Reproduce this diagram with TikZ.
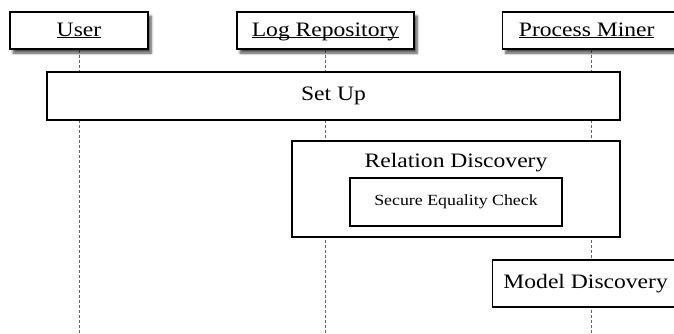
\documentclass[tikz,border=0pt]{standalone}
\usepackage{fontspec}
\setmainfont[FakeStretch=1.15]{Liberation Serif}
\usetikzlibrary{positioning,shadows.blur,backgrounds}

\newcommand{\bigfont}{\fontsize{20.5}{24}\selectfont}
\newcommand{\smallfont}{\fontsize{15.5}{18}\selectfont}
\newcommand{\actorname}[1]{$\underline{\smash{\hbox{#1}}}$}

\tikzset{
  actor/.style={draw,fill=white,line width=0.5mm,minimum height=37pt,
    font=\bigfont,text height=14pt,text depth=3pt,
    blur shadow={shadow xshift=3pt,shadow yshift=-4pt,shadow blur radius=2.5pt,
      shadow blur steps=6,shadow opacity=70}},
  phase/.style={draw,fill=white,line width=0.45mm,font=\bigfont},
  subphase/.style={draw,fill=white,line width=0.45mm,font=\smallfont},
  lifeline/.style={gray!80!black,line width=0.3mm,dash pattern=on 3pt off 2pt}
}

\begin{document}
\begin{tikzpicture} [x=1pt,y=-1pt]

  \useasboundingbox (0,0) rectangle (674,333);
  \clip (0,0) rectangle (674,333);

  % participants
  \node[actor] (user) at (79,30.5) [minimum width=138pt] {\actorname{User}};
  \node[actor] (repo) at (325.5,30.5) [minimum width=177pt] {\actorname{Log Repository}};
  \node[actor] (miner) at (502,30.5) [anchor=west,minimum width=178pt] {\hspace*{-10pt}\actorname{Process Miner}};

  \coordinate (userend) at (79,333);
  \coordinate (repoend) at (325.5,333);
  \coordinate (minerend) at (591,333);

  % phases
  \node[phase] (setup) at (333.5,96) [minimum width=573pt,minimum height=48pt] {Set Up};
  \node[phase] (relation) at (456,189) [minimum width=328pt,minimum height=96pt,
    label={[anchor=base,yshift=-27pt,font=\bigfont]north:Relation Discovery}] {};
  \node[subphase] (equality) at (456,202) [minimum width=212pt,minimum height=48pt] {Secure Equality\ Check};
  \node[phase] (model) at (492,283.5) [anchor=west,minimum width=196pt,minimum height=47pt] {\hspace*{-10pt}Model Discovery};

  \begin{scope}[on background layer]
    \draw[lifeline] (user.south) -- (userend);
    \draw[lifeline] (repo.south) -- (repoend);
    \draw[lifeline] (minerend |- miner.south) -- (minerend);
  \end{scope}

\end{tikzpicture}
\end{document}
